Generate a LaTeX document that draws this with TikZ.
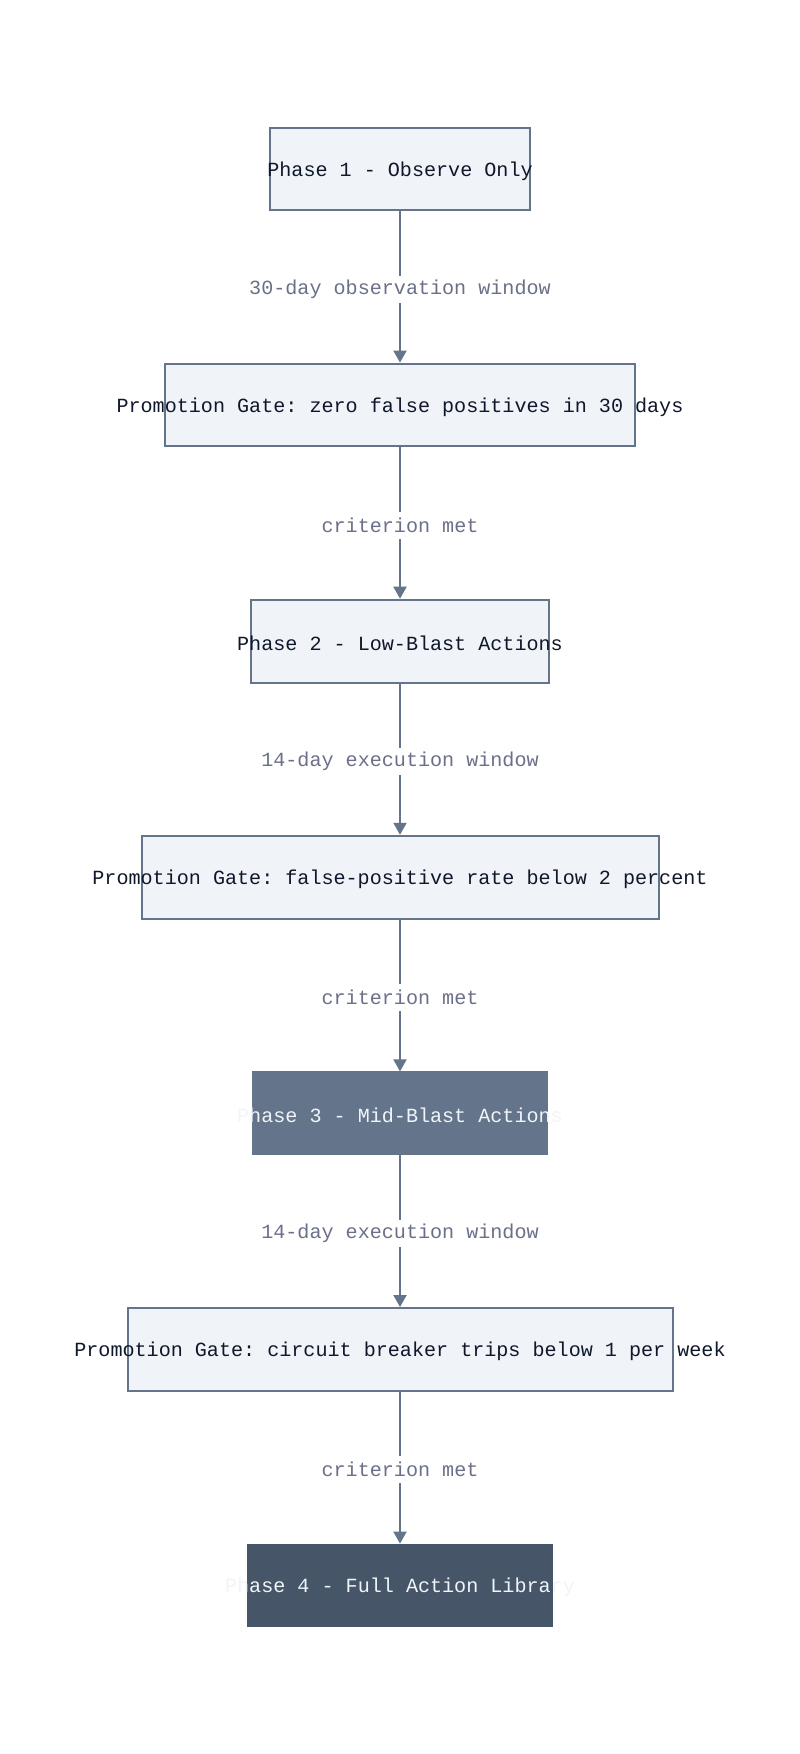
\documentclass[tikz,border=0pt]{standalone}
\usepackage{fontspec}
\setmonofont{Liberation Mono}
\usetikzlibrary{arrows.meta}
\definecolor{boxfill}{HTML}{F0F3F8}
\definecolor{slate}{HTML}{64748B}
\definecolor{darkslate}{HTML}{475569}
\definecolor{labelc}{HTML}{6B7088}
\definecolor{textc}{HTML}{0F172A}
\definecolor{lighttext}{HTML}{F1F5F9}
\newcommand{\boxtext}[1]{\makebox[0pt]{\raisebox{-2pt}[\height][\depth]{#1}}}
\tikzset{
  base/.style={rectangle, inner sep=0pt, minimum height=82.8pt, font=\ttfamily\fontsize{20.1}{24}\selectfont},
  lightbox/.style={base, draw=slate, line width=2pt, fill=boxfill, text=textc},
  midbox/.style={base, fill=slate, draw=slate, line width=1pt, text=lighttext},
  darkbox/.style={base, fill=darkslate, draw=darkslate, line width=1pt, text=lighttext},
  conn/.style={draw=slate, line width=2pt, -{Triangle[width=13pt,length=12pt]}},
  lbl/.style={fill=white, inner xsep=1pt, inner ysep=0pt, minimum height=27pt, yshift=-2pt, text=labelc, font=\ttfamily\fontsize{20.1}{24}\selectfont}
}
\begin{document}
\begin{tikzpicture}[x=1pt,y=-1pt]
\useasboundingbox (0,0) rectangle (800,1754);
\fill[white] (0,0) rectangle (800,1754);
\node[lightbox, minimum width=259.6pt] (p1) at (400,169) {\boxtext{Phase 1 - Observe Only}};
\node[lightbox, minimum width=470pt] (g1) at (400,405) {\boxtext{Promotion Gate: zero false positives in 30 days}};
\node[lightbox, minimum width=298.8pt] (p2) at (400,641.1) {\boxtext{Phase 2 - Low-Blast Actions}};
\node[lightbox, minimum width=517pt] (g2) at (400,877.2) {\boxtext{Promotion Gate: false-positive rate below 2 percent}};
\node[midbox, minimum width=295.4pt] (p3) at (400,1113.3) {\boxtext{Phase 3 - Mid-Blast Actions}};
\node[lightbox, minimum width=545pt] (g3) at (400,1349.4) {\boxtext{Promotion Gate: circuit breaker trips below 1 per week}};
\node[darkbox, minimum width=305.5pt] (p4) at (400,1585.5) {\boxtext{Phase 4 - Full Action Library}};
\draw[conn] (p1) -- node[lbl] (l1) {30-day observation window} (g1);
\draw[conn] (g1) -- node[lbl] (l2) {criterion met} (p2);
\draw[conn] (p2) -- node[lbl] (l3) {14-day execution window} (g2);
\draw[conn] (g2) -- node[lbl] (l4) {criterion met} (p3);
\draw[conn] (p3) -- node[lbl] (l5) {14-day execution window} (g3);
\draw[conn] (g3) -- node[lbl] (l6) {criterion met} (p4);
\end{tikzpicture}
\end{document}
